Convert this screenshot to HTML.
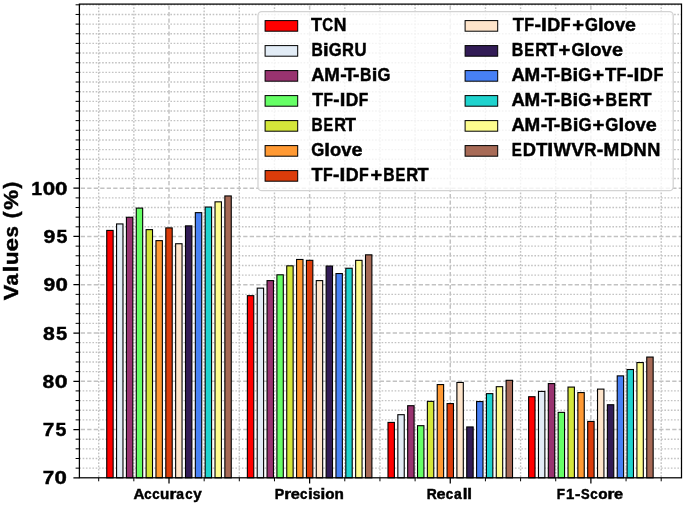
<!DOCTYPE html><html><head><meta charset="utf-8"><style>html,body{margin:0;padding:0;background:#fff;overflow:hidden;width:685px;height:505px;}svg{display:block;filter:blur(0.35px);}text{font-family:"Liberation Sans",sans-serif;font-weight:bold;fill:#000;stroke:#000;stroke-width:0.45px;}</style></head><body>
<svg width="685" height="505" viewBox="0 0 685 505">
<rect x="0" y="0" width="685" height="505" fill="#fff"/>
<path d="M79.40 468.15H681.50 M79.40 458.49H681.50 M79.40 448.84H681.50 M79.40 439.19H681.50 M79.40 419.88H681.50 M79.40 410.23H681.50 M79.40 400.58H681.50 M79.40 390.92H681.50 M79.40 371.62H681.50 M79.40 361.96H681.50 M79.40 352.31H681.50 M79.40 342.66H681.50 M79.40 323.35H681.50 M79.40 313.70H681.50 M79.40 304.05H681.50 M79.40 294.39H681.50 M79.40 275.09H681.50 M79.40 265.43H681.50 M79.40 255.78H681.50 M79.40 246.13H681.50 M79.40 226.82H681.50 M79.40 217.17H681.50 M79.40 207.52H681.50 M79.40 197.86H681.50 M79.40 178.56H681.50 M79.40 168.90H681.50 M79.40 159.25H681.50 M79.40 149.60H681.50 M79.40 139.94H681.50 M79.40 130.29H681.50 M79.40 120.64H681.50 M79.40 110.99H681.50 M79.40 101.33H681.50 M79.40 91.68H681.50 M79.40 82.03H681.50 M79.40 72.37H681.50 M79.40 62.72H681.50 M79.40 53.07H681.50 M79.40 43.41H681.50 M79.40 33.76H681.50 M79.40 24.11H681.50 M79.40 14.46H681.50 M79.40 4.80H681.50" stroke="#c3c3c3" stroke-width="1.4" stroke-dasharray="1.6 1.65" fill="none"/>
<path d="M98.69 4.10V477.80 M133.84 4.10V477.80 M204.16 4.10V477.80 M239.31 4.10V477.80 M274.47 4.10V477.80 M344.79 4.10V477.80 M379.94 4.10V477.80 M415.10 4.10V477.80 M485.42 4.10V477.80 M520.58 4.10V477.80 M555.73 4.10V477.80 M626.05 4.10V477.80 M661.20 4.10V477.80" stroke="#c3c3c3" stroke-width="1.4" stroke-dasharray="1.6 1.65" fill="none"/>
<path d="M79.40 429.54H681.50 M79.40 381.27H681.50 M79.40 333.00H681.50 M79.40 284.74H681.50 M79.40 236.47H681.50 M79.40 188.21H681.50 M169.00 4.10V477.80 M309.63 4.10V477.80 M450.26 4.10V477.80 M590.89 4.10V477.80" stroke="#c2c2c2" stroke-width="1.45" stroke-dasharray="4.3 2.2" stroke-dashoffset="5.2" fill="none"/>
<rect x="106.74" y="230.41" width="6.40" height="247.39" fill="#ff0000" stroke="#000" stroke-width="1.1"/>
<rect x="116.58" y="223.94" width="6.40" height="253.86" fill="#e2ecf6" stroke="#000" stroke-width="1.1"/>
<rect x="126.42" y="217.28" width="6.40" height="260.52" fill="#993370" stroke="#000" stroke-width="1.1"/>
<rect x="136.27" y="208.11" width="6.40" height="269.69" fill="#66ff66" stroke="#000" stroke-width="1.1"/>
<rect x="146.11" y="229.64" width="6.40" height="248.16" fill="#d4e63a" stroke="#000" stroke-width="1.1"/>
<rect x="155.96" y="240.64" width="6.40" height="237.16" fill="#ff9933" stroke="#000" stroke-width="1.1"/>
<rect x="165.80" y="227.90" width="6.40" height="249.90" fill="#dc3c0a" stroke="#000" stroke-width="1.1"/>
<rect x="175.64" y="243.73" width="6.40" height="234.07" fill="#fee4ca" stroke="#000" stroke-width="1.1"/>
<rect x="185.49" y="225.87" width="6.40" height="251.93" fill="#321c56" stroke="#000" stroke-width="1.1"/>
<rect x="195.33" y="212.65" width="6.40" height="265.15" fill="#4780f5" stroke="#000" stroke-width="1.1"/>
<rect x="205.18" y="207.05" width="6.40" height="270.75" fill="#1fd3ce" stroke="#000" stroke-width="1.1"/>
<rect x="215.02" y="201.84" width="6.40" height="275.96" fill="#fdfc8e" stroke="#000" stroke-width="1.1"/>
<rect x="224.86" y="195.95" width="6.40" height="281.85" fill="#a76a56" stroke="#000" stroke-width="1.1"/>
<rect x="247.37" y="295.67" width="6.40" height="182.13" fill="#ff0000" stroke="#000" stroke-width="1.1"/>
<rect x="257.21" y="288.14" width="6.40" height="189.66" fill="#e2ecf6" stroke="#000" stroke-width="1.1"/>
<rect x="267.05" y="280.61" width="6.40" height="197.19" fill="#993370" stroke="#000" stroke-width="1.1"/>
<rect x="276.90" y="274.81" width="6.40" height="202.99" fill="#66ff66" stroke="#000" stroke-width="1.1"/>
<rect x="286.74" y="265.84" width="6.40" height="211.96" fill="#d4e63a" stroke="#000" stroke-width="1.1"/>
<rect x="296.59" y="259.47" width="6.40" height="218.33" fill="#ff9933" stroke="#000" stroke-width="1.1"/>
<rect x="306.43" y="260.34" width="6.40" height="217.46" fill="#dc3c0a" stroke="#000" stroke-width="1.1"/>
<rect x="316.27" y="280.61" width="6.40" height="197.19" fill="#fee4ca" stroke="#000" stroke-width="1.1"/>
<rect x="326.12" y="266.03" width="6.40" height="211.77" fill="#321c56" stroke="#000" stroke-width="1.1"/>
<rect x="335.96" y="273.56" width="6.40" height="204.24" fill="#4780f5" stroke="#000" stroke-width="1.1"/>
<rect x="345.81" y="268.25" width="6.40" height="209.55" fill="#1fd3ce" stroke="#000" stroke-width="1.1"/>
<rect x="355.65" y="260.34" width="6.40" height="217.46" fill="#fdfc8e" stroke="#000" stroke-width="1.1"/>
<rect x="365.49" y="254.83" width="6.40" height="222.97" fill="#a76a56" stroke="#000" stroke-width="1.1"/>
<rect x="388.00" y="422.41" width="6.40" height="55.39" fill="#ff0000" stroke="#000" stroke-width="1.1"/>
<rect x="397.84" y="414.69" width="6.40" height="63.11" fill="#e2ecf6" stroke="#000" stroke-width="1.1"/>
<rect x="407.68" y="405.71" width="6.40" height="72.09" fill="#993370" stroke="#000" stroke-width="1.1"/>
<rect x="417.53" y="425.69" width="6.40" height="52.11" fill="#66ff66" stroke="#000" stroke-width="1.1"/>
<rect x="427.37" y="401.37" width="6.40" height="76.43" fill="#d4e63a" stroke="#000" stroke-width="1.1"/>
<rect x="437.22" y="384.57" width="6.40" height="93.23" fill="#ff9933" stroke="#000" stroke-width="1.1"/>
<rect x="447.06" y="403.59" width="6.40" height="74.21" fill="#dc3c0a" stroke="#000" stroke-width="1.1"/>
<rect x="456.90" y="382.45" width="6.40" height="95.35" fill="#fee4ca" stroke="#000" stroke-width="1.1"/>
<rect x="466.75" y="426.95" width="6.40" height="50.85" fill="#321c56" stroke="#000" stroke-width="1.1"/>
<rect x="476.59" y="401.56" width="6.40" height="76.24" fill="#4780f5" stroke="#000" stroke-width="1.1"/>
<rect x="486.44" y="393.64" width="6.40" height="84.16" fill="#1fd3ce" stroke="#000" stroke-width="1.1"/>
<rect x="496.28" y="386.69" width="6.40" height="91.11" fill="#fdfc8e" stroke="#000" stroke-width="1.1"/>
<rect x="506.12" y="380.32" width="6.40" height="97.48" fill="#a76a56" stroke="#000" stroke-width="1.1"/>
<rect x="528.63" y="396.73" width="6.40" height="81.07" fill="#ff0000" stroke="#000" stroke-width="1.1"/>
<rect x="538.47" y="391.42" width="6.40" height="86.38" fill="#e2ecf6" stroke="#000" stroke-width="1.1"/>
<rect x="548.31" y="383.60" width="6.40" height="94.20" fill="#993370" stroke="#000" stroke-width="1.1"/>
<rect x="558.16" y="412.37" width="6.40" height="65.43" fill="#66ff66" stroke="#000" stroke-width="1.1"/>
<rect x="568.00" y="387.08" width="6.40" height="90.72" fill="#d4e63a" stroke="#000" stroke-width="1.1"/>
<rect x="577.85" y="392.58" width="6.40" height="85.22" fill="#ff9933" stroke="#000" stroke-width="1.1"/>
<rect x="587.69" y="421.44" width="6.40" height="56.36" fill="#dc3c0a" stroke="#000" stroke-width="1.1"/>
<rect x="597.53" y="389.11" width="6.40" height="88.69" fill="#fee4ca" stroke="#000" stroke-width="1.1"/>
<rect x="607.38" y="404.74" width="6.40" height="73.06" fill="#321c56" stroke="#000" stroke-width="1.1"/>
<rect x="617.22" y="375.88" width="6.40" height="101.92" fill="#4780f5" stroke="#000" stroke-width="1.1"/>
<rect x="627.07" y="369.51" width="6.40" height="108.29" fill="#1fd3ce" stroke="#000" stroke-width="1.1"/>
<rect x="636.91" y="362.56" width="6.40" height="115.24" fill="#fdfc8e" stroke="#000" stroke-width="1.1"/>
<rect x="646.75" y="357.06" width="6.40" height="120.74" fill="#a76a56" stroke="#000" stroke-width="1.1"/>
<rect x="79.40" y="4.10" width="602.10" height="473.70" fill="none" stroke="#000" stroke-width="1.25"/>
<path d="M73.40 477.80H79.40 M73.40 429.54H79.40 M73.40 381.27H79.40 M73.40 333.00H79.40 M73.40 284.74H79.40 M73.40 236.47H79.40 M73.40 188.21H79.40 M169.00 477.80V483.60 M309.63 477.80V483.60 M450.26 477.80V483.60 M590.89 477.80V483.60" stroke="#000" stroke-width="1.25" fill="none"/>
<path d="M75.60 468.15H79.40 M75.60 458.49H79.40 M75.60 448.84H79.40 M75.60 439.19H79.40 M75.60 419.88H79.40 M75.60 410.23H79.40 M75.60 400.58H79.40 M75.60 390.92H79.40 M75.60 371.62H79.40 M75.60 361.96H79.40 M75.60 352.31H79.40 M75.60 342.66H79.40 M75.60 323.35H79.40 M75.60 313.70H79.40 M75.60 304.05H79.40 M75.60 294.39H79.40 M75.60 275.09H79.40 M75.60 265.43H79.40 M75.60 255.78H79.40 M75.60 246.13H79.40 M75.60 226.82H79.40 M75.60 217.17H79.40 M75.60 207.52H79.40 M75.60 197.86H79.40 M75.60 178.56H79.40 M75.60 168.90H79.40 M75.60 159.25H79.40 M75.60 149.60H79.40 M75.60 139.94H79.40 M75.60 130.29H79.40 M75.60 120.64H79.40 M75.60 110.99H79.40 M75.60 101.33H79.40 M75.60 91.68H79.40 M75.60 82.03H79.40 M75.60 72.37H79.40 M75.60 62.72H79.40 M75.60 53.07H79.40 M75.60 43.41H79.40 M75.60 33.76H79.40 M75.60 24.11H79.40 M75.60 14.46H79.40 M75.60 4.80H79.40 M98.69 477.80V481.30 M133.84 477.80V481.30 M204.16 477.80V481.30 M239.31 477.80V481.30 M274.47 477.80V481.30 M344.79 477.80V481.30 M379.94 477.80V481.30 M415.10 477.80V481.30 M485.42 477.80V481.30 M520.58 477.80V481.30 M555.73 477.80V481.30 M626.05 477.80V481.30 M661.20 477.80V481.30" stroke="#000" stroke-width="1" fill="none"/>
<g font-size="18.8"><text transform="translate(48.40 484.40) scale(1.096 1)" x="-5.22">7</text><text transform="translate(60.76 484.40) scale(1.180 1)" x="-5.22">0</text></g>
<g font-size="18.8"><text transform="translate(48.44 436.14) scale(1.105 1)" x="-5.22">7</text><text transform="translate(60.98 436.14) scale(1.039 1)" x="-5.25">5</text></g>
<g font-size="18.8"><text transform="translate(48.48 387.87) scale(1.123 1)" x="-5.24">8</text><text transform="translate(61.17 387.87) scale(1.223 1)" x="-5.22">0</text></g>
<g font-size="18.8"><text transform="translate(48.80 339.61) scale(1.128 1)" x="-5.24">8</text><text transform="translate(61.62 339.61) scale(1.072 1)" x="-5.25">5</text></g>
<g font-size="18.8"><text transform="translate(49.37 291.34) scale(1.121 1)" x="-5.21">9</text><text transform="translate(61.75 291.34) scale(1.182 1)" x="-5.22">0</text></g>
<g font-size="18.8"><text transform="translate(49.42 243.07) scale(1.131 1)" x="-5.21">9</text><text transform="translate(61.97 243.07) scale(1.041 1)" x="-5.25">5</text></g>
<g font-size="18.8"><text transform="translate(36.92 194.81) scale(1.041 1)" x="-5.56">1</text><text transform="translate(48.87 194.81) scale(1.189 1)" x="-5.22">0</text><text transform="translate(61.22 194.81) scale(1.189 1)" x="-5.22">0</text></g>
<g font-size="14.2"><text transform="translate(138.97 499.30) scale(1.072 1)" x="-5.11">A</text><text transform="translate(147.94 499.30) scale(0.934 1)" x="-4.02">c</text><text transform="translate(155.87 499.30) scale(0.934 1)" x="-4.02">c</text><text transform="translate(164.72 499.30) scale(1.072 1)" x="-4.31">u</text><text transform="translate(173.36 499.30) scale(1.240 1)" x="-3.12">r</text><text transform="translate(180.39 499.30) scale(0.979 1)" x="-4.20">a</text><text transform="translate(188.94 499.30) scale(0.934 1)" x="-4.02">c</text><text transform="translate(197.39 499.30) scale(1.077 1)" x="-3.96">y</text></g>
<g font-size="14.2"><text x="274.73" y="499.30">P</text><text transform="translate(288.13 499.30) scale(1.246 1)" x="-3.12">r</text><text transform="translate(295.42 499.30) scale(1.152 1)" x="-3.98">e</text><text transform="translate(303.84 499.30) scale(0.939 1)" x="-4.02">c</text><text transform="translate(310.28 499.30) scale(1.198 1)" x="-1.97">i</text><text transform="translate(316.62 499.30) scale(0.978 1)" x="-3.91">s</text><text transform="translate(322.89 499.30) scale(1.198 1)" x="-1.97">i</text><text transform="translate(329.81 499.30) scale(1.071 1)" x="-4.34">o</text><text transform="translate(339.25 499.30) scale(1.077 1)" x="-4.36">n</text></g>
<g font-size="14.2"><text transform="translate(431.97 499.30) scale(0.979 1)" x="-5.45">R</text><text transform="translate(441.17 499.30) scale(1.150 1)" x="-3.98">e</text><text transform="translate(449.57 499.30) scale(0.937 1)" x="-4.02">c</text><text transform="translate(458.01 499.30) scale(0.982 1)" x="-4.20">a</text><text transform="translate(465.07 499.30) scale(1.197 1)" x="-1.97">l</text><text transform="translate(469.67 499.30) scale(1.197 1)" x="-1.97">l</text></g>
<g font-size="14.2"><text transform="translate(560.98 499.30) scale(0.950 1)" x="-4.55">F</text><text transform="translate(570.52 499.30) scale(1.048 1)" x="-4.20">1</text><text transform="translate(577.72 499.30) scale(1.148 1)" x="-2.36">-</text><text transform="translate(585.36 499.30) scale(0.912 1)" x="-4.66">S</text><text transform="translate(594.07 499.30) scale(0.942 1)" x="-4.02">c</text><text transform="translate(602.87 499.30) scale(1.075 1)" x="-4.34">o</text><text transform="translate(611.37 499.30) scale(1.250 1)" x="-3.12">r</text><text transform="translate(618.68 499.30) scale(1.156 1)" x="-3.98">e</text></g>
<g transform="rotate(-90)"><g font-size="20.8"><text transform="translate(-292.43 17.90) scale(1.119 1)" x="-6.94">V</text><text x="-285.59" y="17.90">a</text><text transform="translate(-268.95 17.90) scale(1.213 1)" x="-2.88">l</text><text transform="translate(-258.49 17.90) scale(1.091 1)" x="-6.31">u</text><text transform="translate(-244.65 17.90) scale(1.166 1)" x="-5.83">e</text><text transform="translate(-231.86 17.90) scale(0.990 1)" x="-5.73">s</text><text transform="translate(-214.43 17.90) scale(0.988 1)" x="-3.96">(</text><text transform="translate(-199.93 17.90) scale(1.072 1)" x="-9.22">%</text><text transform="translate(-185.46 17.90) scale(0.988 1)" x="-2.96">)</text></g></g>
<rect x="258.0" y="11.6" width="415.2" height="179.1" rx="3.8" ry="3.8" fill="#fff" fill-opacity="0.8" stroke="#d3d3d3" stroke-width="1.3"/>
<rect x="265.10" y="20.60" width="32.6" height="10.6" fill="#ff0000" stroke="#000" stroke-width="1"/>
<g font-size="17.8"><text transform="translate(316.57 30.65) scale(1.013 1)" x="-5.45">T</text><text transform="translate(327.65 30.65) scale(0.843 1)" x="-6.55">C</text><text transform="translate(340.17 30.65) scale(0.987 1)" x="-6.42">N</text></g>
<rect x="265.10" y="45.60" width="32.6" height="10.6" fill="#e2ecf6" stroke="#000" stroke-width="1"/>
<g font-size="17.8"><text transform="translate(317.25 55.65) scale(0.882 1)" x="-6.61">B</text><text transform="translate(325.90 55.65) scale(1.136 1)" x="-2.47">i</text><text transform="translate(335.00 55.65) scale(0.929 1)" x="-6.74">G</text><text transform="translate(348.46 55.65) scale(0.929 1)" x="-6.84">R</text><text transform="translate(360.52 55.65) scale(0.939 1)" x="-6.43">U</text></g>
<rect x="265.10" y="70.60" width="32.6" height="10.6" fill="#993370" stroke="#000" stroke-width="1"/>
<g font-size="17.8"><text transform="translate(317.80 80.65) scale(1.027 1)" x="-6.41">A</text><text transform="translate(332.00 80.65) scale(1.046 1)" x="-7.41">M</text><text transform="translate(343.34 80.65) scale(1.091 1)" x="-2.95">-</text><text transform="translate(349.78 80.65) scale(1.030 1)" x="-5.45">T</text><text transform="translate(356.25 80.65) scale(1.091 1)" x="-2.95">-</text><text transform="translate(365.87 80.65) scale(0.888 1)" x="-6.61">B</text><text transform="translate(374.57 80.65) scale(1.143 1)" x="-2.47">i</text><text transform="translate(383.73 80.65) scale(0.935 1)" x="-6.74">G</text></g>
<rect x="265.10" y="95.60" width="32.6" height="10.6" fill="#66ff66" stroke="#000" stroke-width="1"/>
<g font-size="17.8"><text x="312.34" y="105.65">T</text><text transform="translate(328.48 105.65) scale(0.874 1)" x="-5.70">F</text><text transform="translate(336.48 105.65) scale(1.057 1)" x="-2.95">-</text><text transform="translate(342.60 105.65) scale(1.139 1)" x="-2.47">I</text><text transform="translate(352.26 105.65) scale(0.976 1)" x="-6.65">D</text><text transform="translate(363.79 105.65) scale(0.874 1)" x="-5.70">F</text></g>
<rect x="265.10" y="120.60" width="32.6" height="10.6" fill="#d4e63a" stroke="#000" stroke-width="1"/>
<g font-size="17.8"><text transform="translate(317.27 130.65) scale(0.868 1)" x="-6.61">B</text><text transform="translate(328.60 130.65) scale(0.815 1)" x="-6.18">E</text><text transform="translate(340.43 130.65) scale(0.914 1)" x="-6.84">R</text><text transform="translate(350.56 130.65) scale(1.007 1)" x="-5.45">T</text></g>
<rect x="265.10" y="145.60" width="32.6" height="10.6" fill="#ff9933" stroke="#000" stroke-width="1"/>
<g font-size="17.8"><text transform="translate(317.61 155.65) scale(0.941 1)" x="-6.74">G</text><text transform="translate(327.21 155.65) scale(1.151 1)" x="-2.47">l</text><text transform="translate(335.55 155.65) scale(1.029 1)" x="-5.44">o</text><text transform="translate(346.39 155.65) scale(1.032 1)" x="-4.94">v</text><text transform="translate(357.09 155.65) scale(1.107 1)" x="-4.99">e</text></g>
<rect x="265.10" y="170.60" width="32.6" height="10.6" fill="#dc3c0a" stroke="#000" stroke-width="1"/>
<g font-size="17.8"><text transform="translate(317.02 180.65) scale(1.022 1)" x="-5.45">T</text><text transform="translate(327.98 180.65) scale(0.896 1)" x="-5.70">F</text><text transform="translate(336.18 180.65) scale(1.083 1)" x="-2.95">-</text><text transform="translate(342.45 180.65) scale(1.168 1)" x="-2.47">I</text><text x="345.71" y="180.65">D</text><text transform="translate(364.18 180.65) scale(0.896 1)" x="-5.70">F</text><text transform="translate(376.24 180.65) scale(1.119 1)" x="-5.22">+</text><text transform="translate(389.18 180.65) scale(0.881 1)" x="-6.61">B</text><text transform="translate(400.68 180.65) scale(0.828 1)" x="-6.18">E</text><text transform="translate(412.69 180.65) scale(0.929 1)" x="-6.84">R</text><text transform="translate(422.98 180.65) scale(1.022 1)" x="-5.45">T</text></g>
<rect x="465.10" y="20.60" width="32.6" height="10.6" fill="#fee4ca" stroke="#000" stroke-width="1"/>
<g font-size="17.8"><text transform="translate(518.27 30.65) scale(1.033 1)" x="-5.45">T</text><text transform="translate(529.35 30.65) scale(0.905 1)" x="-5.70">F</text><text transform="translate(537.64 30.65) scale(1.094 1)" x="-2.95">-</text><text transform="translate(543.97 30.65) scale(1.180 1)" x="-2.47">I</text><text transform="translate(553.98 30.65) scale(1.011 1)" x="-6.65">D</text><text transform="translate(565.92 30.65) scale(0.905 1)" x="-5.70">F</text><text transform="translate(578.11 30.65) scale(1.131 1)" x="-5.22">+</text><text transform="translate(591.29 30.65) scale(0.938 1)" x="-6.74">G</text><text transform="translate(600.85 30.65) scale(1.146 1)" x="-2.47">l</text><text transform="translate(609.16 30.65) scale(1.024 1)" x="-5.44">o</text><text transform="translate(619.95 30.65) scale(1.027 1)" x="-4.94">v</text><text transform="translate(630.61 30.65) scale(1.102 1)" x="-4.99">e</text></g>
<rect x="465.10" y="45.60" width="32.6" height="10.6" fill="#321c56" stroke="#000" stroke-width="1"/>
<g font-size="17.8"><text transform="translate(517.73 55.65) scale(0.898 1)" x="-6.61">B</text><text transform="translate(529.45 55.65) scale(0.843 1)" x="-6.18">E</text><text transform="translate(541.69 55.65) scale(0.946 1)" x="-6.84">R</text><text transform="translate(552.18 55.65) scale(1.041 1)" x="-5.45">T</text><text transform="translate(564.53 55.65) scale(1.140 1)" x="-5.22">+</text><text transform="translate(577.82 55.65) scale(0.945 1)" x="-6.74">G</text><text transform="translate(587.46 55.65) scale(1.156 1)" x="-2.47">l</text><text transform="translate(595.84 55.65) scale(1.033 1)" x="-5.44">o</text><text transform="translate(606.72 55.65) scale(1.036 1)" x="-4.94">v</text><text transform="translate(617.47 55.65) scale(1.111 1)" x="-4.99">e</text></g>
<rect x="465.10" y="70.60" width="32.6" height="10.6" fill="#4780f5" stroke="#000" stroke-width="1"/>
<g font-size="17.8"><text transform="translate(518.06 80.65) scale(1.038 1)" x="-6.41">A</text><text transform="translate(532.41 80.65) scale(1.056 1)" x="-7.41">M</text><text transform="translate(543.86 80.65) scale(1.102 1)" x="-2.95">-</text><text transform="translate(550.37 80.65) scale(1.040 1)" x="-5.45">T</text><text transform="translate(556.90 80.65) scale(1.102 1)" x="-2.95">-</text><text transform="translate(566.62 80.65) scale(0.897 1)" x="-6.61">B</text><text transform="translate(575.41 80.65) scale(1.154 1)" x="-2.47">i</text><text transform="translate(584.66 80.65) scale(0.944 1)" x="-6.74">G</text><text transform="translate(598.31 80.65) scale(1.139 1)" x="-5.22">+</text><text transform="translate(610.64 80.65) scale(1.040 1)" x="-5.45">T</text><text transform="translate(621.79 80.65) scale(0.912 1)" x="-5.70">F</text><text transform="translate(630.14 80.65) scale(1.102 1)" x="-2.95">-</text><text transform="translate(636.51 80.65) scale(1.188 1)" x="-2.47">I</text><text transform="translate(646.59 80.65) scale(1.018 1)" x="-6.65">D</text><text transform="translate(658.62 80.65) scale(0.912 1)" x="-5.70">F</text></g>
<rect x="465.10" y="95.60" width="32.6" height="10.6" fill="#1fd3ce" stroke="#000" stroke-width="1"/>
<g font-size="17.8"><text transform="translate(518.05 105.65) scale(1.037 1)" x="-6.41">A</text><text transform="translate(532.40 105.65) scale(1.056 1)" x="-7.41">M</text><text transform="translate(543.84 105.65) scale(1.101 1)" x="-2.95">-</text><text transform="translate(550.35 105.65) scale(1.039 1)" x="-5.45">T</text><text transform="translate(556.87 105.65) scale(1.101 1)" x="-2.95">-</text><text transform="translate(566.59 105.65) scale(0.896 1)" x="-6.61">B</text><text transform="translate(575.38 105.65) scale(1.154 1)" x="-2.47">i</text><text transform="translate(584.63 105.65) scale(0.944 1)" x="-6.74">G</text><text transform="translate(598.26 105.65) scale(1.138 1)" x="-5.22">+</text><text transform="translate(611.42 105.65) scale(0.896 1)" x="-6.61">B</text><text transform="translate(623.11 105.65) scale(0.842 1)" x="-6.18">E</text><text transform="translate(635.33 105.65) scale(0.944 1)" x="-6.84">R</text><text transform="translate(645.79 105.65) scale(1.039 1)" x="-5.45">T</text></g>
<rect x="465.10" y="120.60" width="32.6" height="10.6" fill="#fdfc8e" stroke="#000" stroke-width="1"/>
<g font-size="17.8"><text transform="translate(518.07 130.65) scale(1.039 1)" x="-6.41">A</text><text transform="translate(532.44 130.65) scale(1.058 1)" x="-7.41">M</text><text transform="translate(543.91 130.65) scale(1.103 1)" x="-2.95">-</text><text transform="translate(550.42 130.65) scale(1.041 1)" x="-5.45">T</text><text transform="translate(556.96 130.65) scale(1.103 1)" x="-2.95">-</text><text transform="translate(566.69 130.65) scale(0.898 1)" x="-6.61">B</text><text transform="translate(575.50 130.65) scale(1.156 1)" x="-2.47">i</text><text transform="translate(584.77 130.65) scale(0.945 1)" x="-6.74">G</text><text transform="translate(598.43 130.65) scale(1.140 1)" x="-5.22">+</text><text transform="translate(611.72 130.65) scale(0.945 1)" x="-6.74">G</text><text transform="translate(621.36 130.65) scale(1.156 1)" x="-2.47">l</text><text transform="translate(629.74 130.65) scale(1.033 1)" x="-5.44">o</text><text transform="translate(640.62 130.65) scale(1.036 1)" x="-4.94">v</text><text transform="translate(651.37 130.65) scale(1.111 1)" x="-4.99">e</text></g>
<rect x="465.10" y="145.60" width="32.6" height="10.6" fill="#a76a56" stroke="#000" stroke-width="1"/>
<g font-size="17.8"><text transform="translate(517.09 155.65) scale(0.848 1)" x="-6.18">E</text><text transform="translate(529.63 155.65) scale(1.026 1)" x="-6.65">D</text><text transform="translate(541.66 155.65) scale(1.047 1)" x="-5.45">T</text><text transform="translate(550.27 155.65) scale(1.197 1)" x="-2.47">I</text><text transform="translate(562.31 155.65) scale(1.016 1)" x="-8.40">W</text><text transform="translate(577.66 155.65) scale(1.072 1)" x="-5.94">V</text><text transform="translate(590.86 155.65) scale(0.951 1)" x="-6.84">R</text><text transform="translate(599.96 155.65) scale(1.110 1)" x="-2.95">-</text><text transform="translate(611.48 155.65) scale(1.063 1)" x="-7.41">M</text><text transform="translate(626.72 155.65) scale(1.026 1)" x="-6.65">D</text><text transform="translate(640.02 155.65) scale(1.021 1)" x="-6.42">N</text><text transform="translate(653.70 155.65) scale(1.021 1)" x="-6.42">N</text></g>
</svg></body></html>
